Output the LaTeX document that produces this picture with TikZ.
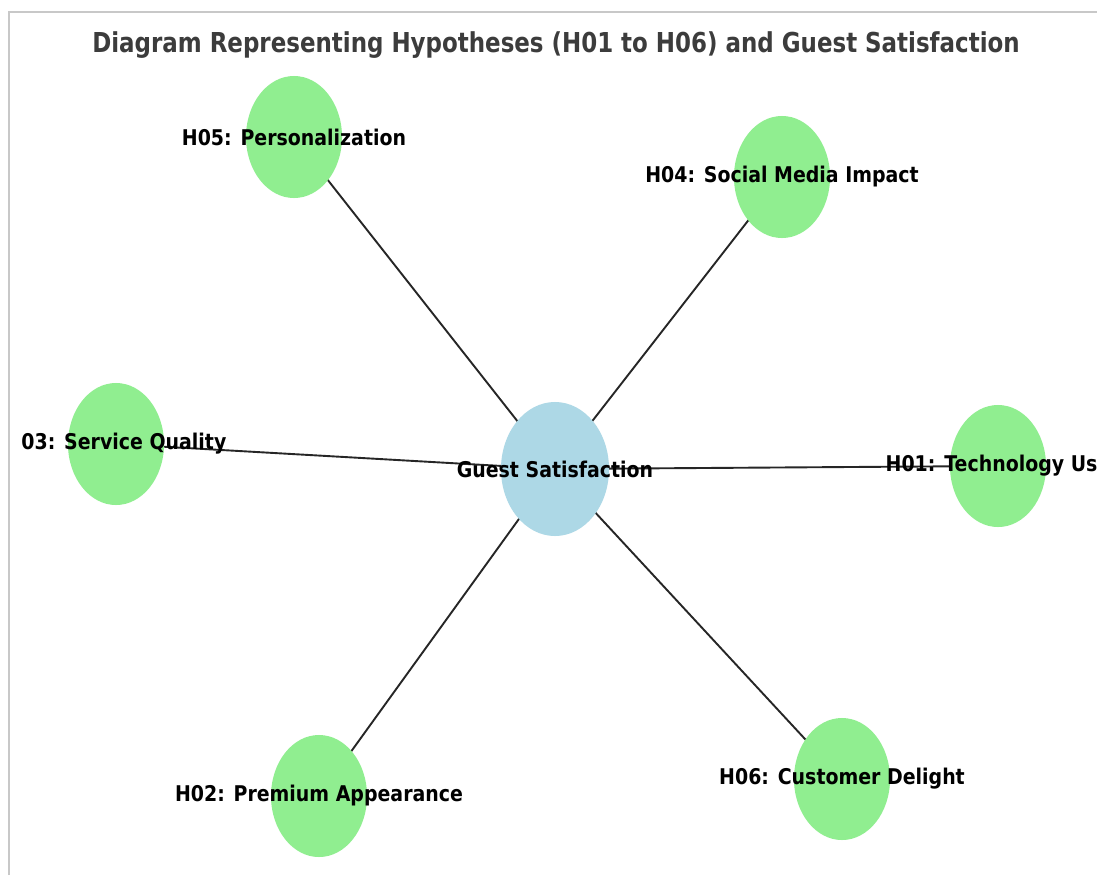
\documentclass[tikz,border=0pt]{standalone}
\usepackage{fontspec}
\setmainfont{DejaVu Sans}
\usetikzlibrary{shapes.geometric,backgrounds}
\definecolor{hypgreen}{HTML}{90EE90}
\definecolor{gsblue}{HTML}{ADD8E6}
\definecolor{titlegray}{HTML}{3C3C3C}
\definecolor{framegray}{HTML}{C8C8C8}
\newcommand{\nodetext}[1]{\makebox[0pt]{\scalebox{0.875}[1]{#1}}}

\begin{document}
\begin{tikzpicture}[x=0.025cm, y=-0.025cm,
  hypothesis/.style={ellipse, fill=hypgreen, minimum width=2.4cm, minimum height=3.05cm, inner sep=0pt, font=\fontsize{15.4}{18}\selectfont\bfseries},
  outcome/.style={hypothesis, fill=gsblue, minimum width=2.7cm, minimum height=3.35cm},
  link/.style={draw=black!85, line width=1.35pt}]
\useasboundingbox (0,0) rectangle (1097,875);
\draw[framegray, line width=1pt] (9,875) -- (9,12) -- (1097,12);

\node[text=titlegray, anchor=base, font=\fontsize{19.5}{22}\selectfont\bfseries] (diagram title) at (556,52) {\resizebox{23.18cm}{\height}{Diagram Representing Hypotheses (H01 to H06) and Guest Satisfaction}};

\node[outcome] (guest satisfaction) at (555,469) {\nodetext{Guest Satisfaction}};

\node[hypothesis] (personalization) at (294,137) {\nodetext{H05: Personalization}};
\node[hypothesis] (social media) at (782,177) {\nodetext{H04: Social Media Impact}};
\node[hypothesis] (service quality) at (116,444) {\nodetext{\phantom{H}03: Service Quality}};
\node[hypothesis] (technology use) at (998,466) {\nodetext{H01: Technology Us\phantom{e}}};
\node[hypothesis] (premium appearance) at (319,796) {\nodetext{H02: Premium Appearance}};
\node[hypothesis] (customer delight) at (842,779) {\nodetext{H06: Customer Delight}};

\begin{scope}[on background layer]
\fill[white] (0,0) rectangle (1097,875);
\foreach \h in {personalization, social media, service quality, technology use, premium appearance, customer delight}
  \draw[link] (guest satisfaction.center) -- (\h.center);
\end{scope}
\end{tikzpicture}
\end{document}
